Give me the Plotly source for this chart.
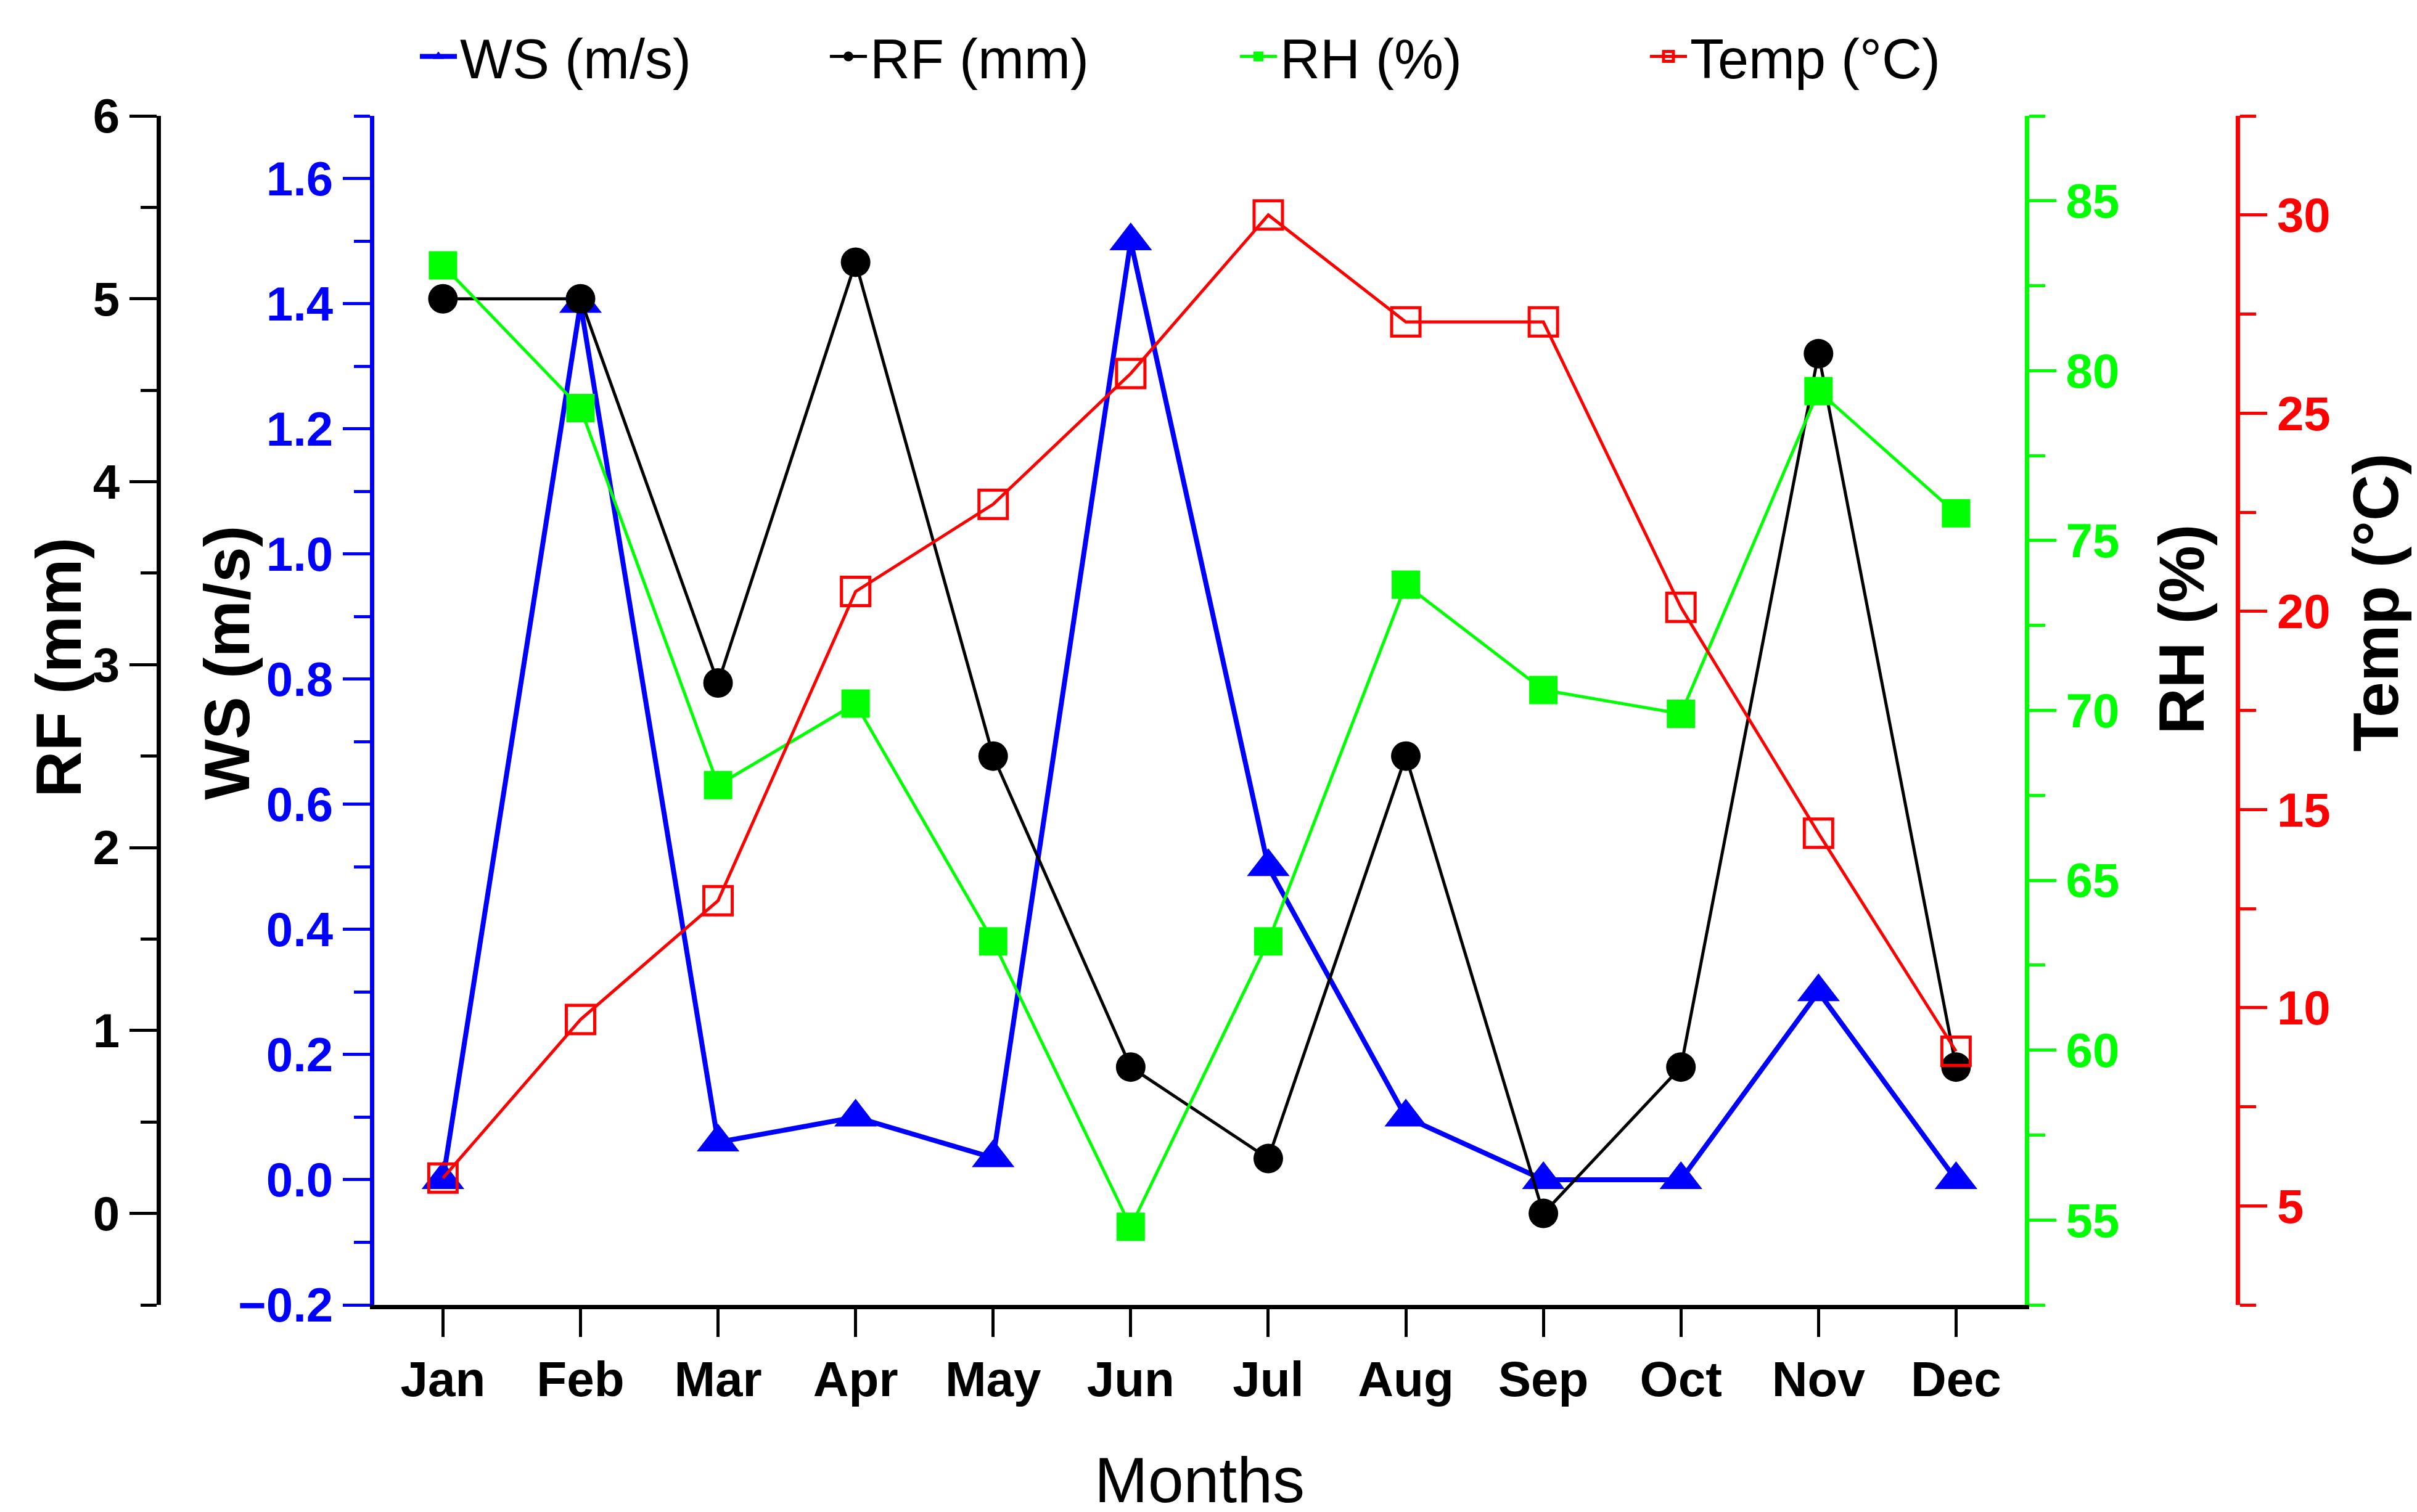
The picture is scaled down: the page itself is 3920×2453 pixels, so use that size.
"""
Monthly climate chart: WS, RF, RH and Temp on four y axes.
"""

import plotly.graph_objects as go

# ── Data ─────────────────────────────────────────────────────────────
months = ['Jan', 'Feb', 'Mar', 'Apr', 'May', 'Jun',
          'Jul', 'Aug', 'Sep', 'Oct', 'Nov', 'Dec']
ws_ms = [0.0, 1.40, 0.06, 0.10, 0.035, 1.50, 0.50, 0.10, 0.0, 0.0, 0.30, 0.0]
rf_mm = [5.0, 5.0, 2.9, 5.2, 2.5, 0.8, 0.3, 2.5, 0.0, 0.8, 4.7, 0.8]
rh_pct = [83.1, 78.9, 67.8, 70.2, 63.2, 54.8, 63.2, 73.7, 70.6, 69.9, 79.4, 75.8]
temp_c = [5.7, 9.7, 12.7, 20.5, 22.7, 26.0, 30.0, 27.3, 27.3, 20.1, 14.4, 8.9]

BLUE = '#0000FF'
BLACK = '#000000'
GREEN = '#00FF00'
RED = '#FF0000'
FONT = 'Arial, Liberation Sans, sans-serif'

W, H = 3920, 2453
ML, MR, MT, MB = 60, 60, 180, 344

fig = go.Figure()

fig.add_trace(go.Scatter(
    x=months, y=ws_ms, name='WS (m/s)', mode='lines+markers',
    line=dict(color=BLUE, width=8),
    marker=dict(symbol='triangle-up', size=60, color=BLUE),
    yaxis='y',
))
fig.add_trace(go.Scatter(
    x=months, y=rf_mm, name='RF (mm)', mode='lines+markers',
    line=dict(color=BLACK, width=5),
    marker=dict(symbol='circle', size=48, color=BLACK),
    yaxis='y2',
))
fig.add_trace(go.Scatter(
    x=months, y=rh_pct, name='RH (%)', mode='lines+markers',
    line=dict(color=GREEN, width=5),
    marker=dict(symbol='square', size=46, color=GREEN),
    yaxis='y3',
))
fig.add_trace(go.Scatter(
    x=months, y=temp_c, name='Temp (°C)', mode='lines+markers',
    line=dict(color=RED, width=5),
    marker=dict(symbol='square-open', size=46, color=RED,
                line=dict(color=RED, width=5)),
    yaxis='y4',
))


def yax(color, rng, dtick, minor, ticklen=44, **kw):
    return dict(
        range=rng, dtick=dtick, tick0=0,
        showline=True, linecolor=color, linewidth=7,
        ticks='outside', ticklen=ticklen, tickwidth=5, tickcolor=color,
        minor=dict(dtick=minor, ticks='outside', ticklen=26,
                   tickwidth=5, tickcolor=color),
        tickfont=dict(family=FONT, size=78, color=color, weight='bold'),
        showgrid=False, zeroline=False,
        **kw,
    )


fig.update_layout(
    width=W, height=H,
    margin=dict(l=ML, r=MR, t=MT, b=MB),
    paper_bgcolor='white', plot_bgcolor='white',
    font=dict(family=FONT, color=BLACK),
    xaxis=dict(
        domain=[0.1418, 0.8463], type='category', range=[-0.5, 11.5],
        showline=True, linecolor=BLACK, linewidth=7,
        ticks='outside', ticklen=45, tickwidth=5, tickcolor=BLACK,
        tickfont=dict(family=FONT, size=80, color=BLACK, weight='bold'),
        showgrid=False, zeroline=False,
    ),
    yaxis=yax(BLUE, [-0.2, 1.7], 0.2, 0.1, anchor='x', side='left',
              tickformat='.1f'),
    yaxis2=yax(BLACK, [-0.5, 6], 1, 0.5, overlaying='y', anchor='free',
               position=0.0497, side='left'),
    yaxis3=yax(GREEN, [52.5, 87.5], 5, 2.5, overlaying='y', anchor='x',
               side='right'),
    yaxis4=yax(RED, [2.5, 32.5], 5, 2.5, overlaying='y', anchor='free',
               position=0.9372, side='right'),
    showlegend=True,
    legend=dict(
        orientation='h', x=0.51, xanchor='center',
        xref='paper', yref='paper', y=1.05, yanchor='middle',
        font=dict(family=FONT, size=90, color=BLACK),
        entrywidth=590, itemwidth=60,
        bgcolor='rgba(0,0,0,0)',
    ),
)

# ── Axis titles ──────────────────────────────────────────────────────
titles = [
    ('RF (mm)', 0.0070, 0.536),
    ('WS (m/s)', 0.0790, 0.540),
    ('RH (%)', 0.9132, 0.568),
    ('Temp (°C)', 0.9960, 0.591),
]
for text, tx, ty in titles:
    fig.add_annotation(
        text=text, x=tx, y=ty, xref='paper', yref='paper',
        textangle=-90, showarrow=False, xanchor='center', yanchor='middle',
        font=dict(family=FONT, size=104, color=BLACK, weight='bold'),
    )

fig.add_annotation(
    text='Months', x=0.494, y=-0.147, xref='paper', yref='paper',
    showarrow=False, xanchor='center', yanchor='middle',
    font=dict(family=FONT, size=104, color=BLACK),
)

fig.write_html('out.html')
